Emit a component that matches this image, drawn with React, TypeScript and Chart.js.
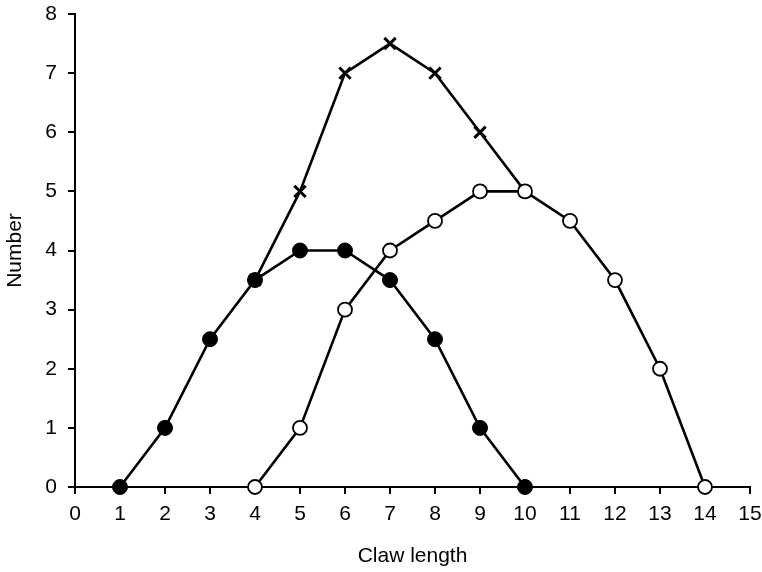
import React, { useEffect, useRef } from "react";
import { Chart, registerables } from "chart.js";

Chart.register(...registerables);

const xFilled = [1, 2, 3, 4, 5, 6, 7, 8, 9, 10];
const yFilled = [0, 1, 2.5, 3.5, 4, 4, 3.5, 2.5, 1, 0];
const xOpen = [4, 5, 6, 7, 8, 9, 10, 11, 12, 13, 14];
const yOpen = [0, 1, 3, 4, 4.5, 5, 5, 4.5, 3.5, 2, 0];
const xCross = [4, 5, 6, 7, 8, 9, 10];
const yCross = [3.5, 5, 7, 7.5, 7, 6, 5];

const xTitle = "Claw length";
const yTitle = "Number";

const FONT = "'Liberation Sans', Arial, sans-serif";

const pts = (xs: number[], ys: number[]) => xs.map((x, i) => ({ x, y: ys[i] }));

export default function App() {
  const ref = useRef<HTMLCanvasElement | null>(null);
  useEffect(() => {
    if (!ref.current) return;
    const chart = new Chart(ref.current, {
      type: "line",
      data: {
        datasets: [
          {
            data: pts(xFilled, yFilled),
            order: 0,
            borderColor: "#000",
            borderWidth: 2.6,
            pointStyle: "circle",
            pointRadius: 7.5,
            pointBackgroundColor: "#000",
            pointBorderColor: "#000",
            pointBorderWidth: 1,
            tension: 0,
            clip: false,
          },
          {
            data: pts(xOpen, yOpen),
            order: 1,
            borderColor: "#000",
            borderWidth: 2.6,
            pointStyle: "circle",
            pointRadius: 7,
            pointBackgroundColor: "#fff",
            pointBorderColor: "#000",
            pointBorderWidth: 1.8,
            tension: 0,
            clip: false,
          },
          {
            data: pts(xCross, yCross),
            order: 2,
            borderColor: "#000",
            borderWidth: 2.6,
            pointStyle: "crossRot",
            pointRadius: 8,
            pointBorderColor: "#000",
            pointBorderWidth: 3,
            tension: 0,
            clip: false,
          },
        ],
      },
      options: {
        animation: false,
        responsive: true,
        maintainAspectRatio: false,
        layout: { padding: { top: 14, right: 12, left: 0, bottom: 0 } },
        plugins: { legend: { display: false }, tooltip: { enabled: false } },
        scales: {
          x: {
            type: "linear",
            min: 0,
            max: 15,
            afterFit: (s: any) => {
              s.height = 85;
              s.paddingLeft = 0;
              s.paddingRight = 0;
            },
            ticks: {
              stepSize: 1,
              color: "#000",
              padding: 8,
              font: { family: FONT, size: 21 },
            },
            grid: {
              drawOnChartArea: false,
              drawTicks: true,
              tickLength: 7,
              color: "#000",
              lineWidth: 2,
            },
            border: { display: true, color: "#000", width: 2 },
            title: {
              display: true,
              text: xTitle,
              color: "#000",
              font: { family: FONT, size: 21 },
              padding: { top: 0, bottom: 3 },
            },
          },
          y: {
            type: "linear",
            min: 0,
            max: 8,
            afterFit: (s: any) => {
              s.width = 75;
              s.paddingTop = 0;
              s.paddingBottom = 0;
            },
            ticks: {
              stepSize: 1,
              color: "#000",
              padding: 11,
              font: { family: FONT, size: 21 },
            },
            grid: {
              drawOnChartArea: false,
              drawTicks: true,
              tickLength: 7,
              color: "#000",
              lineWidth: 2,
            },
            border: { display: true, color: "#000", width: 2 },
            title: {
              display: true,
              text: yTitle,
              color: "#000",
              font: { family: FONT, size: 21 },
              padding: { top: 3, bottom: 0 },
            },
          },
        },
      },
    });
    return () => chart.destroy();
  }, []);
  return (
    <div style={{ position: "fixed", left: 0, top: 0, width: 762, height: 572, background: "#fff" }}>
      <canvas ref={ref} />
    </div>
  );
}
